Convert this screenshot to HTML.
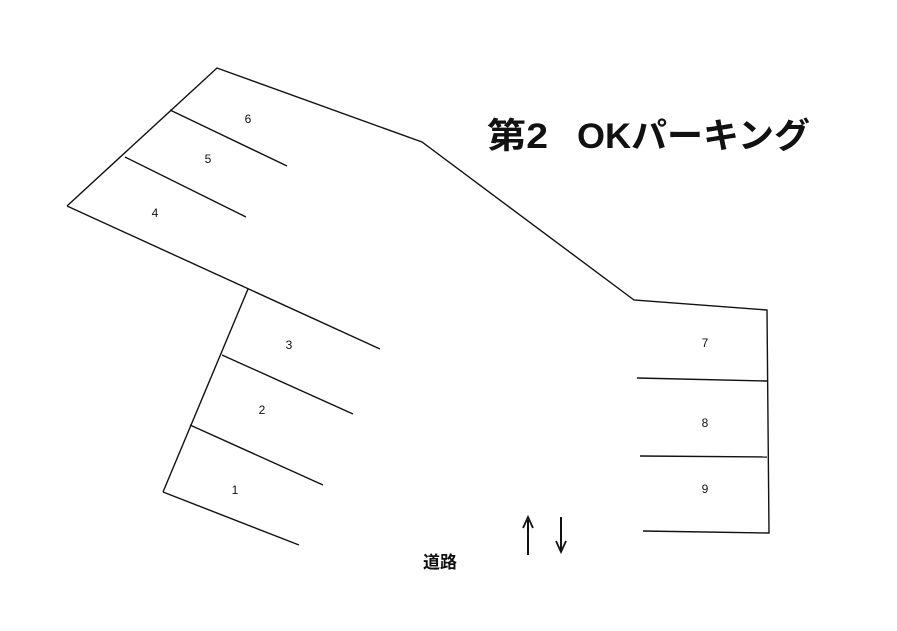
<!DOCTYPE html>
<html><head><meta charset="utf-8"><style>
html,body{margin:0;padding:0;background:#fff;}
svg{display:block;}
text{font-family:"Liberation Sans","Noto Sans CJK JP",sans-serif;fill:#111;}
</style></head><body>
<svg width="897" height="631" viewBox="0 0 897 631" xmlns="http://www.w3.org/2000/svg">
<g stroke="#111" stroke-width="1.4" fill="none">
<polyline points="67,206 217,68 422,142 634,300 767,310 769,533 643,531"/>
<line x1="67" y1="206" x2="380" y2="349"/>
<line x1="170" y1="110" x2="287" y2="166"/>
<line x1="125" y1="157" x2="246" y2="217"/>
<line x1="248" y1="289" x2="163" y2="492"/>
<line x1="163" y1="492" x2="299" y2="545"/>
<line x1="222" y1="355" x2="353" y2="414"/>
<line x1="190" y1="425" x2="323" y2="485"/>
<line x1="637" y1="378" x2="767" y2="381"/>
<line x1="640" y1="456" x2="767" y2="457"/>
<line x1="528" y1="555" x2="528" y2="520" stroke-width="2"/>
<line x1="561" y1="517" x2="561" y2="552" stroke-width="2"/>
<polyline points="523,528 528,517 533,528" stroke-width="1.8"/>
<polyline points="556,541 561,552 566,541" stroke-width="1.8"/>
</g>
<g font-size="12" text-anchor="middle">
<text x="248" y="123">6</text>
<text x="208" y="163">5</text>
<text x="155" y="217">4</text>
<text x="289" y="349">3</text>
<text x="262" y="414">2</text>
<text x="235" y="494">1</text>
<text x="705" y="347">7</text>
<text x="705" y="427">8</text>
<text x="705" y="493">9</text>
</g>
<text x="487" y="148" font-size="35" font-weight="bold" textLength="61" lengthAdjust="spacingAndGlyphs">第2</text>
<text x="577" y="148" font-size="35" font-weight="bold" textLength="233" lengthAdjust="spacingAndGlyphs">OKパーキング</text>
<text x="423" y="568" font-size="17" font-weight="bold">道路</text>
</svg>
</body></html>
